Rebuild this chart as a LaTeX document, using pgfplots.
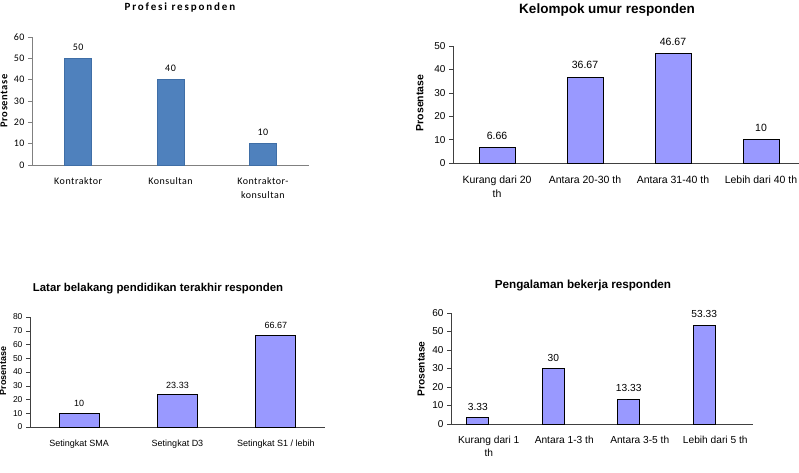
\documentclass[border=0pt]{standalone}
\usepackage{pgfplots}
\pgfplotsset{compat=1.18}
\usepackage{fontspec}
\setmainfont{Liberation Sans}
\newfontfamily\calfont[LetterSpace=5]{Carlito}
\newfontfamily\calwide[LetterSpace=17]{Carlito}
\definecolor{exblue}{HTML}{4F81BD}
\definecolor{exblueedge}{HTML}{3F6EA6}
\definecolor{lilac}{HTML}{9999FF}

\pgfplotsset{
  every axis title shift=0pt,
  surveybar/.style={
    scale only axis, anchor=south west,
    ybar, ymin=0,
    axis x line*=bottom, axis y line*=left,
    x axis line style={-}, y axis line style={-},
    tick align=outside, major tick length=4pt, minor tick length=5pt,
    xtick style={draw=none},
    xticklabel style={align=center, yshift=-5pt},
    /pgf/number format/assume math mode=true,
    nodes near coords,
    nodes near coords style={anchor=center, yshift=11pt},
    title style={anchor=center},
    ylabel style={anchor=center, font=\bfseries},
  },
}

\begin{document}
\begin{tikzpicture}
\useasboundingbox (0,0) rectangle (799pt,-472pt);
\clip (0,0) rectangle (799pt,-472pt);

% Profesi responden
\begin{axis}[surveybar,
  at={(32pt,-165pt)}, width=277pt, height=128pt,
  xmin=-0.5, xmax=2.5, ymax=60, ytick={0,10,...,60},
  xtick={0,1,2}, minor xtick={-0.5,0.5,1.5,2.5},
  xticklabels={Kontraktor, Konsultan, {Kontraktor-\\konsultan}},
  axis line style={gray}, every tick/.style={gray},
  ticklabel style={font=\calfont\fontsize{10}{14}\selectfont},
  bar width=27pt,
  nodes near coords style={font=\calfont\fontsize{10}{12}\selectfont},
  title={\calwide\bfseries Profesi responden},
  title style={font=\fontsize{11}{12}\selectfont, at={(axis description cs:0.534,1.227)}},
  ylabel={\calfont\bfseries Prosentase},
  ylabel style={font=\fontsize{10.5}{12}\selectfont, at={(axis description cs:-0.101,0.5)}},
]
\addplot[fill=exblue, draw=exblueedge] coordinates {(0,50) (1,40) (2,10)};
\end{axis}

% Kelompok umur responden
\begin{axis}[surveybar,
  at={(453pt,-163pt)}, width=352pt, height=117pt,
  xmin=-0.5, xmax=3.5, ymax=50, ytick={0,10,...,50},
  xtick={0,1,2,3}, minor xtick={-0.5,0.5,1.5,2.5,3.5},
  xticklabels={{Kurang dari 20\\th}, Antara 20-30 th, Antara 31-40 th, Lebih dari 40 th},
  axis line style={black!75}, every tick/.style={black!75},
  yticklabel style={font=\fontsize{10}{12}\selectfont},
  xticklabel style={font=\fontsize{10.5}{14}\selectfont},
  bar width=36pt,
  nodes near coords style={font=\fontsize{10.5}{12}\selectfont, yshift=1pt},
  title={Kelompok umur responden},
  title style={font=\bfseries\fontsize{13.5}{15}\selectfont, at={(axis description cs:0.4375,1.308)}},
  ylabel={Prosentase},
  ylabel style={font=\bfseries\fontsize{10.5}{12}\selectfont, at={(axis description cs:-0.094,0.513)}},
]
\addplot[fill=lilac, draw=black, line width=0.9pt] coordinates {(0,6.66) (1,36.67) (2,46.67) (3,10)};
\end{axis}

% Latar belakang pendidikan terakhir responden
\begin{axis}[surveybar,
  at={(30pt,-427pt)}, width=295pt, height=110pt,
  xmin=-0.5, xmax=2.5, ymax=80, ytick={0,10,...,80},
  xtick={0,1,2}, minor xtick={-0.5,0.5,1.5,2.5},
  xticklabels={Setingkat SMA, Setingkat D3, Setingkat S1 / lebih},
  axis line style={black!75}, every tick/.style={black!75},
  yticklabel style={font=\fontsize{8.5}{10}\selectfont},
  xticklabel style={font=\fontsize{9}{11}\selectfont},
  bar width=40pt,
  nodes near coords style={font=\fontsize{9}{11}\selectfont, yshift=-1pt},
  title={Latar belakang pendidikan terakhir responden},
  title style={font=\bfseries\fontsize{11.4}{13}\selectfont, at={(axis description cs:0.434,1.255)}},
  ylabel={Prosentase},
  ylabel style={font=\bfseries\fontsize{9}{11}\selectfont, at={(axis description cs:-0.0915,0.509)}},
]
\addplot[fill=lilac, draw=black, line width=0.9pt] coordinates {(0,10) (1,23.33) (2,66.67)};
\end{axis}

% Pengalaman bekerja responden
\begin{axis}[surveybar,
  at={(451pt,-424pt)}, width=302pt, height=111pt,
  xmin=-0.5, xmax=3.5, ymax=60, ytick={0,10,...,60},
  xtick={0,1,2,3}, minor xtick={-0.5,0.5,1.5,2.5,3.5},
  xticklabels={{Kurang dari 1\\th}, Antara 1-3 th, Antara 3-5 th, Lebih dari 5 th},
  axis line style={black!75}, every tick/.style={black!75},
  yticklabel style={font=\fontsize{10}{12}\selectfont},
  xticklabel style={font=\fontsize{10.2}{13}\selectfont},
  bar width=22pt, bar shift=-11pt,
  nodes near coords style={font=\fontsize{10.2}{12}\selectfont},
  title={Pengalaman bekerja responden},
  title style={font=\bfseries\fontsize{11.7}{13}\selectfont, at={(axis description cs:0.437,1.252)}},
  ylabel={Prosentase},
  ylabel style={font=\bfseries\fontsize{10.2}{12}\selectfont, at={(axis description cs:-0.099,0.495)}},
]
\addplot[fill=lilac, draw=black, line width=0.9pt] coordinates {(0,3.33) (1,30) (2,13.33) (3,53.33)};
\end{axis}
\end{tikzpicture}
\end{document}
